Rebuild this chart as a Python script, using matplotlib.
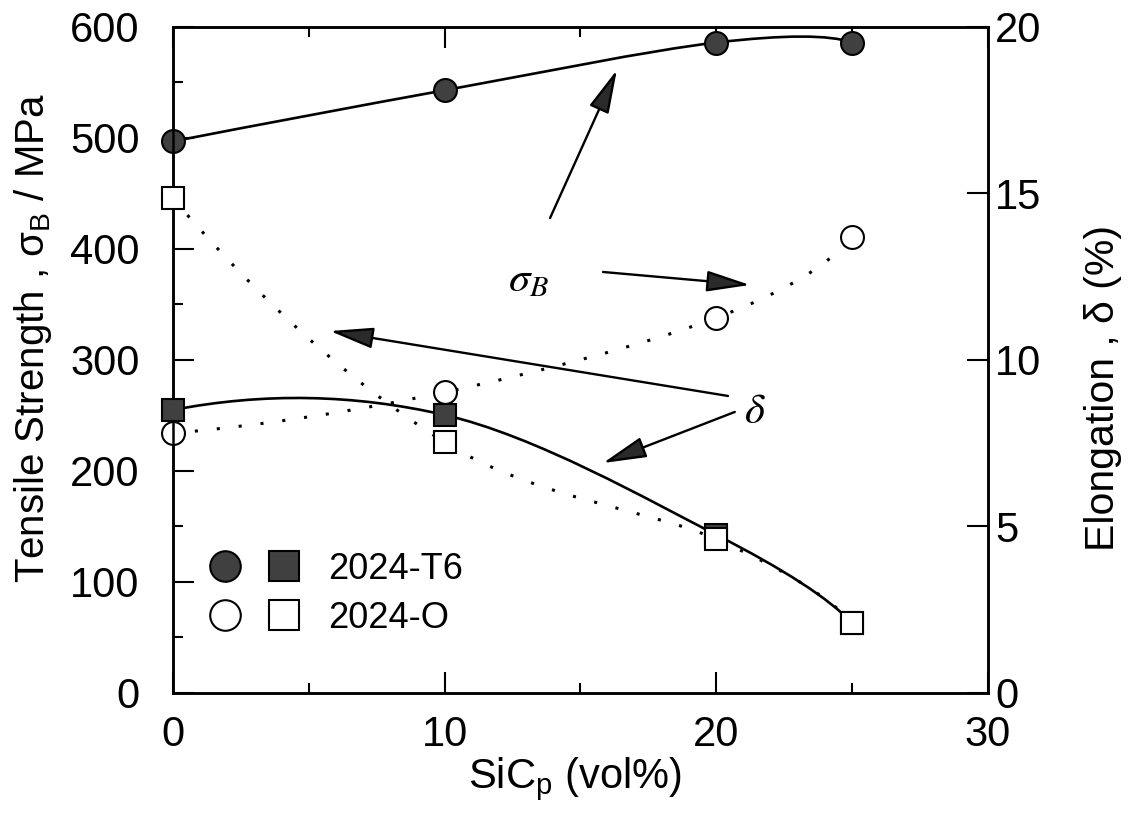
import numpy as np
import matplotlib
matplotlib.use("Agg")
import matplotlib.pyplot as plt
from matplotlib.path import Path
from matplotlib.patches import PathPatch
from matplotlib.lines import Line2D
from matplotlib.legend_handler import HandlerTuple
from matplotlib.ticker import MultipleLocator

plt.rcParams['font.family'] = 'Liberation Sans'
plt.rcParams['mathtext.fontset'] = 'custom'
plt.rcParams['mathtext.rm'] = 'Liberation Sans'
plt.rcParams['mathtext.it'] = 'Liberation Sans:italic'

# ---- data ----
sic = [0, 10, 20, 25]                      # SiCp vol%
uts_t6 = [497, 543, 586, 586]              # tensile strength, MPa
uts_o = [234, 271, 338, 411]
elong_t6 = [8.5, 8.35, 4.75, 2.1]          # elongation, %
elong_o = [14.85, 7.53, 4.62, 2.1]

fill_c = '#404040'


def smooth_path(xs, ys):
    # cubic Bezier through the points (Catmull-Rom style tangents)
    pts = np.column_stack([xs, ys]).astype(float)
    tang = np.zeros_like(pts)
    tang[1:-1] = (pts[2:] - pts[:-2]) / 2
    tang[0] = 2 * (pts[1] - pts[0]) - tang[1]
    tang[-1] = 2 * (pts[-1] - pts[-2]) - tang[-2]
    verts = [pts[0]]
    codes = [Path.MOVETO]
    for i in range(len(pts) - 1):
        verts += [pts[i] + tang[i] / 3, pts[i + 1] - tang[i + 1] / 3, pts[i + 1]]
        codes += [Path.CURVE4] * 3
    return Path(verts, codes)


def curve(axis, xs, ys, dotted=False):
    ls = (0, (1, 6.2)) if dotted else '-'
    lw = 2.2 if dotted else 1.9
    axis.add_patch(PathPatch(smooth_path(xs, ys), fill=False, lw=lw,
                             ls=ls, ec='black', zorder=2))


fig = plt.figure(figsize=(11.37, 8.33), dpi=100)
ax = fig.add_axes([0.15215, 0.16807, 0.7168, 0.79952])
ax2 = ax.twinx()

# tensile strength (left axis)
curve(ax, sic, uts_t6)
curve(ax, sic, uts_o, dotted=True)
ax.plot(sic, uts_t6, ls='none', marker='o', ms=16.5, mfc=fill_c, mec='black',
        mew=1.5, zorder=3, clip_on=False)
ax.plot(sic, uts_o, ls='none', marker='o', ms=16.5, mfc='white', mec='black',
        mew=1.5, zorder=3, clip_on=False)

# elongation (right axis)
curve(ax2, sic, elong_t6)
curve(ax2, sic, elong_o, dotted=True)
ax2.plot(sic, elong_t6, ls='none', marker='s', ms=16, mfc=fill_c, mec='black',
         mew=1.5, zorder=3, clip_on=False)
ax2.plot(sic, elong_o, ls='none', marker='s', ms=16, mfc='white', mec='black',
         mew=1.5, zorder=4, clip_on=False)

ax.set_xlim(0, 30)
ax.set_ylim(0, 600)
ax2.set_ylim(0, 20)

ax.xaxis.set_major_locator(MultipleLocator(10))
ax.xaxis.set_minor_locator(MultipleLocator(5))
ax.yaxis.set_major_locator(MultipleLocator(100))
ax.yaxis.set_minor_locator(MultipleLocator(50))
ax2.yaxis.set_major_locator(MultipleLocator(5))

ax.tick_params(axis='x', which='both', direction='in', top=True, width=1.5,
               labelsize=30, pad=15.5)
ax.tick_params(axis='y', which='both', direction='in', right=False, width=1.5,
               labelsize=30, pad=24)
ax.tick_params(which='major', length=15)
ax.tick_params(which='minor', length=7.5)
ax2.tick_params(axis='y', direction='in', length=15, width=1.5,
                labelsize=30, pad=5)

for a in (ax, ax2):
    for s in a.spines.values():
        s.set_linewidth(1.8)

ax.set_xlabel('SiC$_{\\rm p}$ (vol%)', fontsize=30)
ax.xaxis.set_label_coords(0.493, -0.129)
ax.xaxis.label.set_va('center')
ax.set_ylabel('Tensile Strength , σ$_{\\rm B}$ / MPa', fontsize=29)
ax.yaxis.set_label_coords(-0.172, 0.533)
ax.yaxis.label.set_va('center')
ax2.set_ylabel('Elongation , δ (%)', fontsize=29.5)
ax2.yaxis.set_label_coords(1.141, 0.458)
ax2.yaxis.label.set_va('center')

# arrows pointing from the symbols to their curves
arrow_kw = dict(arrowstyle='-|>,head_length=2.7,head_width=0.65', lw=1.7,
                fc='#2a2a2a', ec='black', mutation_scale=10, shrinkA=0, shrinkB=0)
ax.annotate('', xy=(16.34, 561.3), xytext=(13.88, 427.9), arrowprops=arrow_kw)
ax.annotate('', xy=(21.24, 367.6), xytext=(15.83, 379.3), arrowprops=arrow_kw)
ax.annotate('', xy=(5.78, 326.1), xytext=(20.43, 267.6), arrowprops=arrow_kw)
ax.annotate('', xy=(15.83, 207.2), xytext=(20.68, 253.2), arrowprops=arrow_kw)
ax.text(13.1, 372, r'$\sigma_B$', fontsize=31, math_fontfamily='stix',
        ha='center', va='center')
ax.text(21.42, 253, r'$\delta$', fontsize=31, math_fontfamily='stix',
        ha='center', va='center')

# legend: circle + square per alloy condition
h_t6 = (Line2D([], [], ls='none', marker='o', ms=22, mfc=fill_c, mec='black', mew=1.5),
        Line2D([], [], ls='none', marker='s', ms=21, mfc=fill_c, mec='black', mew=1.5))
h_o = (Line2D([], [], ls='none', marker='o', ms=22, mfc='white', mec='black', mew=1.5),
       Line2D([], [], ls='none', marker='s', ms=21, mfc='white', mec='black', mew=1.5))
ax.legend([h_t6, h_o], ['2024-T6', '2024-O'],
          handler_map={tuple: HandlerTuple(ndivide=None, pad=0.5)},
          loc='upper left', bbox_to_anchor=(0.0387, 0.2117), frameon=False,
          fontsize=26, handlelength=2.78, handletextpad=0.65, labelspacing=0.39,
          borderpad=0, borderaxespad=0)

fig.savefig('out.png', dpi=100)
